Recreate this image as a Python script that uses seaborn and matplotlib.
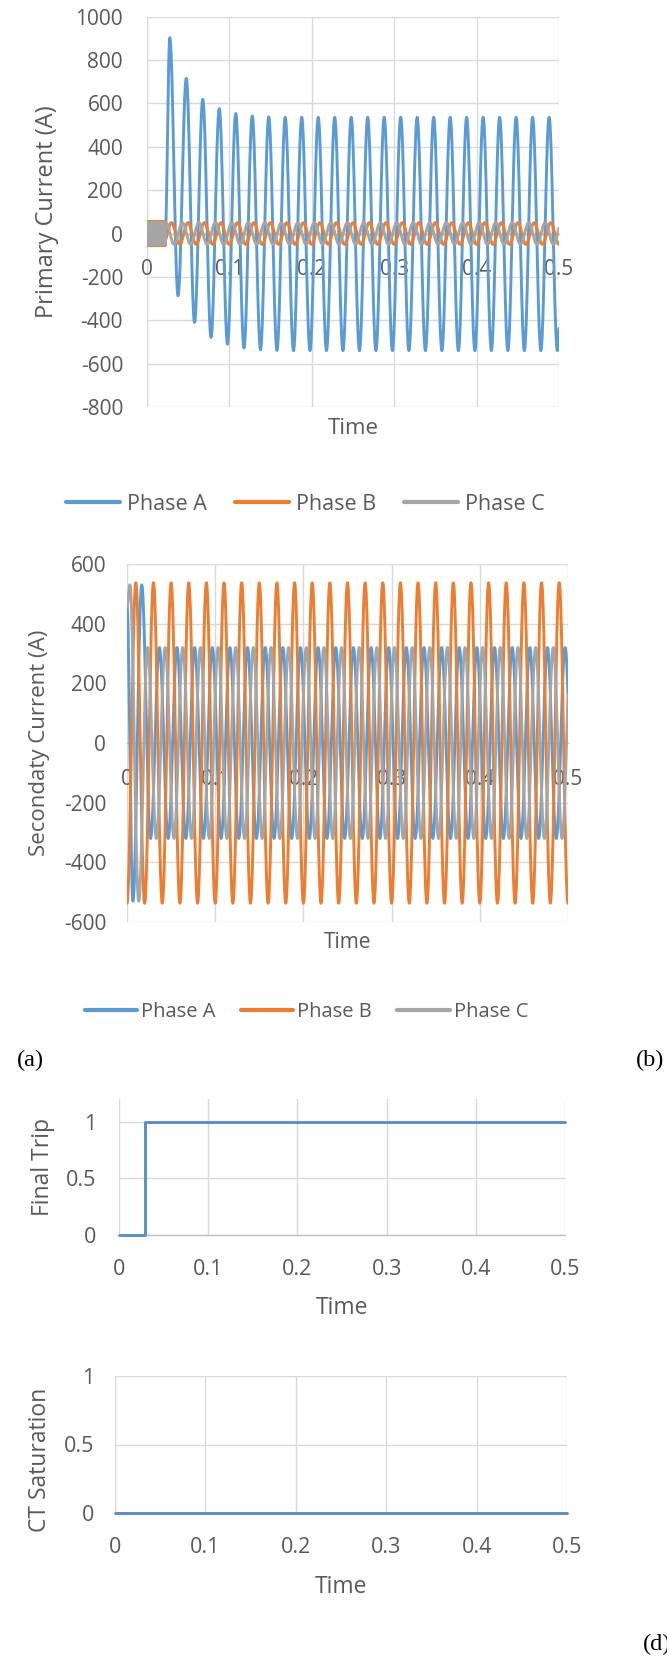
import numpy as np
import pandas as pd
import matplotlib
matplotlib.use("Agg")
import matplotlib.pyplot as plt
import seaborn as sns
from matplotlib.lines import Line2D

# ---------------- data ----------------
phase_names = ["Phase A", "Phase B", "Phase C"]
phase_colors = ["#5B9BD5", "#ED7D31", "#A5A5A5"]

time_ticks = [0, 0.1, 0.2, 0.3, 0.4, 0.5]
time_tick_labels = ["0", "0.1", "0.2", "0.3", "0.4", "0.5"]
prim_yticks = [-800, -600, -400, -200, 0, 200, 400, 600, 800, 1000]
sec_yticks = [-600, -400, -200, 0, 200, 400, 600]
bin_yticks = [0, 0.5, 1]
bin_ytick_labels = ["0", "0.5", "1"]

HALF_PERIOD = 0.01          # s (50 Hz, 25 cycles in 0.5 s)

# Primary current: pre-fault band (all phases) until fault inception
prefault_end = 0.0225
prefault_step = 0.0005
prefault_amp = [55, 55, 52]

# Primary Phase A: alternating extremes (peak, trough, ...) every half cycle
prim_A_start = (0.0225, 0)
prim_A_first_t = 0.028
prim_A_ext = ([903, -287, 715, -410, 619, -479, 576, -510, 553, -528, 542, -536, 538, -539]
              + [536, -540] * 17 + [536])
# Primary Phases B and C
prim_B_first_t = 0.020
prim_B_ext = [-50, 50] * 25 + [-50]
prim_C_first_t = 0.0233
prim_C_ext = [50, -50] * 25

# Secondary currents: value at t=0, then alternating extremes
sec_A_init = 460
sec_A_first_t = 0.0067
sec_A_ext = [-530, 530] + [-320, 320] * 25
sec_B_init = -537
sec_B_first_t = 0.010
sec_B_ext = [537, -537] * 25 + [537]
sec_C_init = 460
sec_C_first_t = 0.0033
sec_C_ext = [530, -530] + [320, -320] * 25

# Final trip and CT saturation signals
trip_t = [0, 0.029, 0.029, 0.5]
trip_v = [0, 0, 1, 1]
sat_t = [0, 0.5]
sat_v = [0, 0]


# ---------------- helpers ----------------
def ext_times(first_t, n):
    return [first_t + HALF_PERIOD * k for k in range(n)]


def half_cos_wave(t, et, ev):
    et = np.asarray(et, float)
    ev = np.asarray(ev, float)
    idx = np.clip(np.searchsorted(et, t, side="right") - 1, 0, len(et) - 2)
    t0, t1 = et[idx], et[idx + 1]
    v0, v1 = ev[idx], ev[idx + 1]
    frac = np.clip((t - t0) / (t1 - t0), 0, 1)
    return (v0 + v1) / 2 + (v0 - v1) / 2 * np.cos(np.pi * frac)


t = np.linspace(0, 0.5, 25001)


def prefault_block(amp, shift):
    n = int(round(prefault_end / prefault_step)) + 2
    et = [-shift + prefault_step * k for k in range(n)]
    ev = [amp if k % 2 == 0 else -amp for k in range(n)]
    return half_cos_wave(t, et, ev)


# primary
pA = half_cos_wave(t, [prim_A_start[0]] + ext_times(prim_A_first_t, len(prim_A_ext)),
                   [prim_A_start[1]] + prim_A_ext)
pB = half_cos_wave(t, ext_times(prim_B_first_t, len(prim_B_ext)), prim_B_ext)
pC = half_cos_wave(t, ext_times(prim_C_first_t, len(prim_C_ext)), prim_C_ext)
pre = t < prefault_end
for arr, amp, sh in [(pA, prefault_amp[0], 0.0), (pB, prefault_amp[1], 0.00017),
                     (pC, prefault_amp[2], 0.00033)]:
    arr[pre] = prefault_block(amp, sh)[pre]

# secondary
sA = half_cos_wave(t, [0] + ext_times(sec_A_first_t, len(sec_A_ext)), [sec_A_init] + sec_A_ext)
sB = half_cos_wave(t, [0] + ext_times(sec_B_first_t, len(sec_B_ext)), [sec_B_init] + sec_B_ext)
sC = half_cos_wave(t, [0] + ext_times(sec_C_first_t, len(sec_C_ext)), [sec_C_init] + sec_C_ext)

prim_df = pd.DataFrame({"Time": t, "Phase A": pA, "Phase B": pB, "Phase C": pC})
sec_df = pd.DataFrame({"Time": t, "Phase A": sA, "Phase B": sB, "Phase C": sC})

# ---------------- style ----------------
sns.set_theme(style="white")
plt.rcParams["font.family"] = ["Open Sans", "DejaVu Sans"]
plt.rcParams["axes.unicode_minus"] = False
TXT = "#595959"
GRID = "#D9D9D9"
LW = 2.1

W, H = 667, 1659
fig = plt.figure(figsize=(W / 100, H / 100), dpi=100)
fig.patch.set_facecolor("white")


def axes_px(left, right, top, bottom):
    return fig.add_axes([left / W, 1 - bottom / H, (right - left) / W, (bottom - top) / H])


def style(ax, ylim, yticks, yticklabels, ylabel, ylab_x, ylab_y, time_y,
          fs_tick, fs_ylab, fs_time, ypad, xpad, zero_axis):
    ax.set_xlim(0, 0.5)
    ax.set_ylim(*ylim)
    ax.set_xticks(time_ticks, time_tick_labels)
    ax.set_yticks(yticks, yticklabels)
    ax.grid(True, color=GRID, lw=1.0)
    ax.set_axisbelow(True)
    for s in ax.spines.values():
        s.set_visible(False)
    sp = ax.spines["bottom"]
    sp.set_visible(True)
    sp.set_color("#BFBFBF")
    sp.set_linewidth(1.0)
    sp.set_zorder(1.6)
    if zero_axis:
        sp.set_position(("data", 0))
    ax.tick_params(axis="y", length=0, labelsize=fs_tick, colors=TXT, pad=ypad)
    ax.tick_params(axis="x", length=0, labelsize=fs_tick, colors=TXT, pad=xpad)
    ax.set_ylabel(ylabel, fontsize=fs_ylab, color=TXT, va="center")
    ax.yaxis.set_label_coords(ylab_x, ylab_y)
    ax.set_xlabel("Time", fontsize=fs_time, color=TXT, va="center")
    ax.xaxis.set_label_coords(0.5, time_y)
    ax.set_facecolor("white")
    for ln in ax.lines:
        ln.set_zorder(3)


def draw_phases(ax, df):
    for name, col in zip(phase_names, phase_colors):
        sns.lineplot(data=df, x="Time", y=name, ax=ax, color=col, linewidth=LW,
                     estimator=None, sort=False, legend=False)


def legend(cx, cy, fs, hl, htp, cs):
    handles = [Line2D([], [], color=c, lw=3.0) for c in phase_colors]
    leg = fig.legend(handles, phase_names, loc="center", bbox_to_anchor=(cx / W, 1 - cy / H),
                     ncol=3, frameon=False, fontsize=fs, handlelength=hl,
                     handletextpad=htp, columnspacing=cs, borderpad=0, borderaxespad=0)
    for tx in leg.get_texts():
        tx.set_color(TXT)


# Panel 1: primary current
ax1 = axes_px(146.7, 559, 16.7, 407)
draw_phases(ax1, prim_df)
style(ax1, (-800, 1000), prim_yticks, [str(v) for v in prim_yticks], "Primary Current (A)",
      (47 - 146.7) / 412.3, 0.5, (407 - 429) / 390.3, 15, 17, 16, 17, 18.5, True)
legend(305.5, 504, 15.5, 2.5, 0.33, 1.3)

# Panel 2: secondary current
ax2 = axes_px(127, 568, 564, 922)
draw_phases(ax2, sec_df)
style(ax2, (-600, 600), sec_yticks, [str(v) for v in sec_yticks], "Secondaty Current (A)",
      (40 - 127) / 441, 0.5, (922 - 943) / 358, 15, 16, 15, 15, 18.5, True)
legend(306.5, 1012, 14.5, 2.6, 0.2, 1.25)

# Panel 3: final trip
ax3 = axes_px(119, 565, 1099, 1235)
sns.lineplot(x=trip_t, y=trip_v, ax=ax3, color="#5A8FC8", linewidth=LW,
             estimator=None, sort=False, legend=False)
ax3.lines[0].set_clip_on(False)
style(ax3, (0, 1.2), bin_yticks, bin_ytick_labels, "Final Trip",
      (43 - 119) / 446, 0.5, (1235 - 1308) / 136, 15.5, 16.5, 16.5, 16.5, 17, False)

# Panel 4: CT saturation
ax4 = axes_px(115, 567, 1376, 1513)
sns.lineplot(x=sat_t, y=sat_v, ax=ax4, color="#5A8FC8", linewidth=LW,
             estimator=None, sort=False, legend=False)
ax4.lines[0].set_clip_on(False)
style(ax4, (0, 1), bin_yticks, bin_ytick_labels, "CT Saturation",
      (40 - 115) / 452, (1513 - 1460) / 137, (1513 - 1587) / 137, 15.5, 16.5, 16.5, 15, 17, False)

# sub-figure tags
for txt, x, y in [("(a)", 17, 1060), ("(b)", 636, 1060), ("(d)", 643, 1644)]:
    fig.text(x / W, 1 - y / H, txt, ha="left", va="center", fontsize=17.5,
             family=["Liberation Serif", "DejaVu Serif"], color="black")

fig.savefig("out.png", dpi=100, facecolor="white")
